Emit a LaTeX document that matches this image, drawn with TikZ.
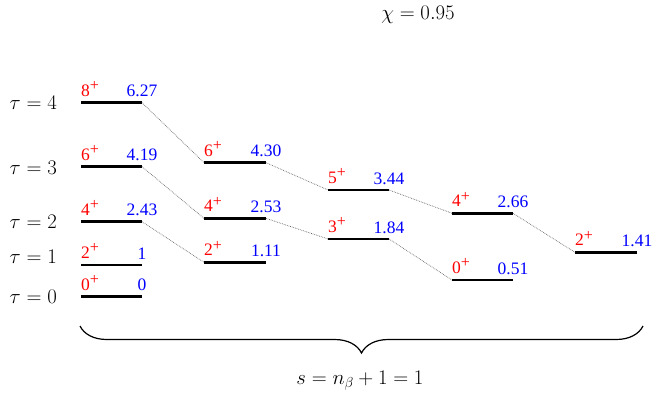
\documentclass[tikz,border=0pt]{standalone}
\usepackage{fontspec}
\setmainfont{Liberation Serif}
\usetikzlibrary{decorations.pathreplacing}
\newcommand\plussup{\raisebox{5.6pt}{\fontsize{16}{16}\selectfont+}}
\newcommand\lev[6]{%
  \coordinate (#1l) at (#2,#4);
  \coordinate (#1r) at (#3,#4);
  \draw[bar] (#1l) -- (#1r);
  \node[spin, anchor=base west] (#1s) at ([yshift=6.5pt]#1l) {#5\plussup};
  \node[ener, anchor=base] (#1e) at ([yshift=6pt]#1r) {#6};
}
\begin{document}
\begin{tikzpicture}[x=1pt,y=-1pt,
  bar/.style={line width=2.6pt},
  spin/.style={inner sep=0pt, text=red, font=\fontsize{17.5}{20}\selectfont},
  ener/.style={inner sep=0pt, text=blue, font=\fontsize{17.5}{20}\selectfont},
  taulab/.style={inner sep=0pt, anchor=base east, font=\fontsize{19.5}{23}\selectfont},
  conn/.style={densely dotted, black!60, line width=0.7pt},
  toplab/.style={inner sep=0pt, font=\fontsize{19.5}{23}\selectfont}]
\useasboundingbox (0,0) rectangle (656,397);
\lev{a4}{81}{142}{102.7}{8}{6.27}
\lev{a3}{81}{142}{166.7}{6}{4.19}
\lev{a2}{81}{142}{221.7}{4}{2.43}
\lev{a1}{81}{142}{265}{2}{1}
\lev{a0}{81}{142}{296.7}{0}{0}
\lev{b3}{204}{266}{162.7}{6}{4.30}
\lev{b2}{204}{266}{218.3}{4}{2.53}
\lev{b1}{204}{266}{262.3}{2}{1.11}
\lev{c2}{328}{389}{190}{5}{3.44}
\lev{c1}{328}{389}{239}{3}{1.84}
\lev{d2}{452}{513}{213.3}{4}{2.66}
\lev{d1}{452}{513}{280}{0}{0.51}
\lev{e1}{575}{637}{252.3}{2}{1.41}
\draw[conn] (a4r) -- (b3l);
\draw[conn] (a3r) -- (b2l);
\draw[conn] (a2r) -- (b1l);
\draw[conn] (b3r) -- (c2l);
\draw[conn] (b2r) -- (c1l);
\draw[conn] (c2r) -- (d2l);
\draw[conn] (c1r) -- (d1l);
\draw[conn] (d2r) -- (e1l);
\node[taulab] (t4) at (57,109) {$\tau=4$};
\node[taulab] (t3) at (57,174) {$\tau=3$};
\node[taulab] (t2) at (57,228) {$\tau=2$};
\node[taulab] (t1) at (57,263) {$\tau=1$};
\node[taulab] (t0) at (57,303) {$\tau=0$};
\node[toplab] (chi) at (418,15) {$\chi=0.95$};
\coordinate (bl) at (80,326);
\coordinate (br) at (643,326);
\draw[line width=1.2pt, decorate, decoration={brace, amplitude=27pt, mirror}] (bl) -- (br);
\node[toplab] (slab) at (360,381) {$s=n_\beta+1=1$};
\end{tikzpicture}
\end{document}
